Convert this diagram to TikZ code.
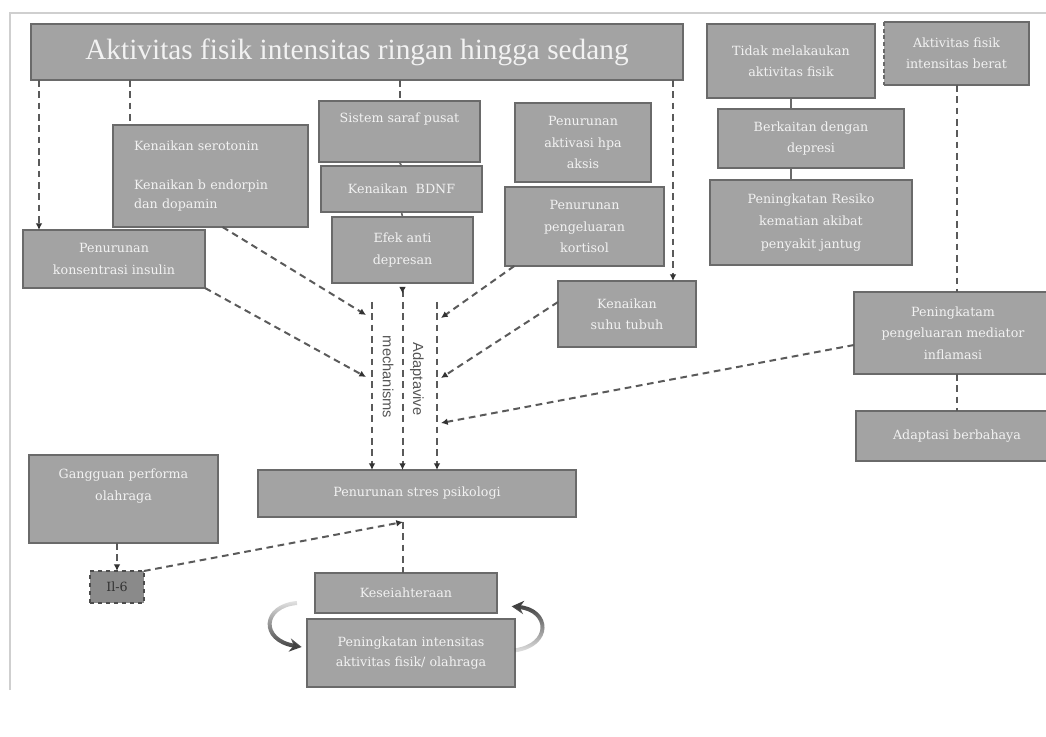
\documentclass[tikz,border=0pt]{standalone}
\usepackage{fontspec}
\setmainfont{DejaVu Serif}
\newfontfamily\titlefont{Liberation Serif}
\newfontfamily\labelfont{Liberation Sans}
\usetikzlibrary{positioning}
\usetikzlibrary{calc}
\usetikzlibrary{arrows.meta}
\usetikzlibrary{fadings}

\definecolor{boxfill}{HTML}{A3A3A3}
\definecolor{boxedge}{HTML}{6A6A6A}
\definecolor{arrowgray}{HTML}{5A5A5A}
\definecolor{framegray}{HTML}{CFCFCF}
\definecolor{labelgray}{HTML}{555555}

\tikzfading[name=fadetop, top color=transparent!85, bottom color=transparent!0]
\tikzfading[name=fadebottom, top color=transparent!0, bottom color=transparent!85]

\begin{document}
\begin{tikzpicture}[x=0.75pt, y=-0.75pt,
        box/.style={draw=boxedge, fill=boxfill, line width=2.2pt, inner sep=2pt, outer sep=0pt,
            text=white!95!black, align=center, font=\fontsize{9.5}{16}\selectfont},
        wh/.style 2 args={minimum width=#1*0.75pt, minimum height=#2*0.75pt},
        dasharr/.style={draw=arrowgray, line width=1.5pt, dash pattern=on 5pt off 3.5pt,
            -{Latex[length=5pt,width=5pt,color=black!80]}},
        dashline/.style={draw=arrowgray, line width=1.5pt, dash pattern=on 5pt off 3.5pt},
        tick/.style={draw=boxedge, line width=1.2pt},
        mech/.style={font=\labelfont\fontsize{11}{13}\selectfont, text=labelgray, inner sep=0pt},
        cyclearr/.style={line width=3pt, draw=black!75, -{Stealth[length=9pt,width=10pt]}}]
    \useasboundingbox (0,0) rectangle (1046,737);
    \draw[framegray, line width=1pt] (10,690) -- (10,13) -- (1046,13);

    % top row
    \node[box, wh={652}{56}, font=\titlefont\fontsize{22}{26}\selectfont] (akt) at (357,52) {Aktivitas fisik intensitas ringan hingga sedang};
    \node[box, wh={168}{74}] (tidak) at (791,61) {Tidak melakaukan\\aktivitas fisik};
    \node[box, draw=none, wh={145}{63}] (berat) at (956.5,53.5) {Aktivitas fisik\\intensitas berat};
    \draw[draw=boxedge, line width=2.2pt] (berat.south west) -- (berat.south east) -- (berat.north east) -- (berat.north west);
    \draw[draw=boxedge, line width=2.2pt, dash pattern=on 3pt off 2pt] (berat.north west) -- (berat.south west);

    % right column
    \node[box, wh={186}{59}] (berkait) at (811,138.5) {Berkaitan dengan\\depresi};
    \node[box, wh={202}{85}, font=\fontsize{9.5}{17}\selectfont] (resiko) at (811,222.5) {Peningkatan Resiko\\kematian akibat\\penyakit jantug};
    \node[box, wh={198}{82}] (mediator) at (953,333) {Peningkatam\\pengeluaran mediator\\inflamasi};
    \node[box, wh={202}{50}] (bahaya) at (957,436) {Adaptasi berbahaya};

    % middle boxes
    \node[box, wh={195}{102}, align=left, text width=153*0.75pt, font=\fontsize{9.5}{14.5}\selectfont] (sero) at (210.5,176) {Kenaikan serotonin\\\strut\\Kenaikan b endorpin\\dan dopamin};
    \node[box, wh={161}{61}] (sistem) at (399.5,131.5) {Sistem saraf pusat\\\strut};
    \node[box, wh={161}{46}] (bdnf) at (401.5,189) {Kenaikan\ \ BDNF};
    \node[box, wh={141}{66}] (efek) at (402.5,250) {Efek anti\\depresan};
    \node[box, wh={136}{79}] (hpa) at (583,142.5) {Penurunan\\aktivasi hpa\\aksis};
    \node[box, wh={159}{79}] (kortisol) at (584.5,226.5) {Penurunan\\pengeluaran\\kortisol};
    \node[box, wh={182}{58}] (insulin) at (114,259) {Penurunan\\konsentrasi insulin};
    \node[box, wh={138}{66}] (suhu) at (627,314) {Kenaikan\\suhu tubuh};

    % bottom
    \node[box, wh={318}{47}] (stres) at (417,493.5) {Penurunan stres psikologi};
    \node[box, wh={189}{88}, font=\fontsize{9.5}{16.5}\selectfont] (ganggu) at (123.5,499) {Gangguan performa\\olahraga\\\strut};
    \node[box, wh={54}{32}, fill=black!46, draw=black!70, line width=1.2pt, dashed, text=black!80] (il6) at (117,587) {Il-6};
    \node[box, wh={182}{40}] (sejahtera) at (406,593) {Keseiahteraan};
    \node[box, wh={208}{68}, font=\fontsize{9.5}{15}\selectfont] (intens) at (411,653) {Peningkatan intensitas\\aktivitas fisik/ olahraga};

    % drops from the top box
    \coordinate (insuldrop) at ([xshift=12pt]insulin.north west);
    \coordinate (serodrop) at ([xshift=12.75pt]sero.north west);
    \coordinate (suhudrop) at ([xshift=34.5pt]suhu.north);
    \draw[dasharr] (insuldrop |- akt.south) -- (insuldrop);
    \draw[dashline] (serodrop |- akt.south) -- (serodrop);
    \draw[dashline] (akt.south -| sistem.north) -- (sistem.north);
    \draw[dasharr] (suhudrop |- akt.south) -- (suhudrop);

    % stacked boxes
    \draw[tick] (sistem.south) -- (bdnf.north);
    \draw[tick] (bdnf.south) -- (efek.north);
    \draw[tick] (tidak.south) -- (tidak.south |- berkait.north);
    \draw[tick] (berkait.south -| tidak.south) -- (tidak.south |- resiko.north);
    \draw[dashline] (berat.south) -- (berat.south |- mediator.north);
    \draw[dashline] (mediator.south -| berat.south) -- (berat.south |- bahaya.north);

    % adaptive mechanisms
    \coordinate (mechL) at (372,302);
    \coordinate (mechR) at (437,302);
    \coordinate (inL1) at (366,315);
    \coordinate (inL2) at (366,377);
    \coordinate (inR1) at (441,318);
    \coordinate (inR2) at (441,378);
    \coordinate (inR3) at (441,423);
    \draw[dasharr] (mechL) -- (mechL |- stres.north);
    \draw[dasharr] (mechR) -- (mechR |- stres.north);
    \draw[dasharr, {Latex[reversed,length=5pt,width=5pt,color=black!80]}-{Latex[length=5pt,width=5pt,color=black!80]}] ([yshift=-3pt]efek.south) -- (efek.south |- stres.north);
    \node[mech, rotate=-90] (mechlbl) at (388,377) {mechanisms};
    \node[mech, rotate=-90] (adaplbl) at (417,379) {Adaptavive};

    \draw[dasharr] ([xshift=9pt]sero.south) -- (inL1);
    \draw[dasharr] (insulin.south east) -- (inL2);
    \draw[dasharr] ([xshift=7pt]kortisol.south west) -- (inR1);
    \draw[dasharr] ([yshift=9pt]suhu.west) -- (inR2);
    \draw[dasharr] ([yshift=-9pt]mediator.west) -- (inR3);

    % il-6 and wellbeing
    \coordinate (stresin) at (403,522);
    \draw[dasharr] (il6.north |- ganggu.south) -- (il6.north);
    \draw[dasharr] (il6.north east) -- (stresin);
    \draw[dashline] (stresin) -- (stresin |- sejahtera.north);

    % cycle
    \draw[cyclearr, path fading=fadetop] ([xshift=-13.5pt,yshift=7.5pt]sejahtera.south west) .. controls (262,606) and (260,640) .. ([xshift=-4pt,yshift=4.5pt]intens.west);
    \draw[cyclearr, path fading=fadebottom] ([yshift=2pt]intens.east) .. controls (552,645) and (550,610) .. ([xshift=11pt,yshift=-10pt]sejahtera.east);
\end{tikzpicture}
\end{document}
